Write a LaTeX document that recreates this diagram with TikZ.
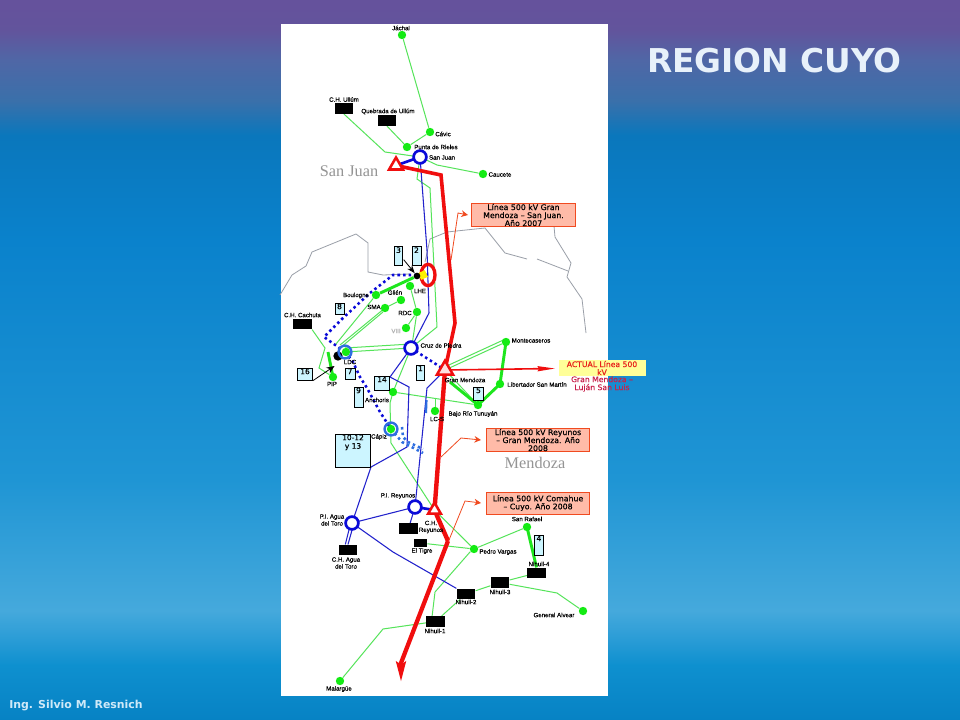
\documentclass[tikz,border=0pt]{standalone}
\usepackage{fontspec}
\setmainfont{Liberation Sans}
\newfontfamily\labfont[FakeBold=0.35]{Liberation Sans}
\newfontfamily\boxfont[FakeBold=0.4]{DejaVu Sans}
\newfontfamily\headfont{DejaVu Sans}
\newfontfamily\regionfont{Liberation Serif}
\usetikzlibrary{shapes.geometric,arrows.meta}
\pgfdeclarelayer{bgl}
\pgfsetlayers{bgl,main}
\definecolor{cthin}{HTML}{55E45A}
\definecolor{cthick}{HTML}{1EE61E}
\definecolor{cdot}{HTML}{14EB14}
\definecolor{cblue}{HTML}{2222CC}
\definecolor{cring}{HTML}{0A0AD8}
\definecolor{cring2}{HTML}{2E6EE0}
\definecolor{cred}{HTML}{F00E0E}
\definecolor{clead}{HTML}{F04A20}
\definecolor{csalmon}{HTML}{FFBBA8}
\definecolor{cnum}{HTML}{CCF5FF}
\definecolor{cgraybd}{HTML}{9A9FA8}
\definecolor{bga}{HTML}{65529C}
\definecolor{bgb}{HTML}{62549C}
\definecolor{bgc}{HTML}{4F67A6}
\definecolor{bgd}{HTML}{3A70AA}
\definecolor{bge}{HTML}{0A77BC}
\definecolor{bgf}{HTML}{0A82CC}
\definecolor{bgg}{HTML}{1F95D4}
\definecolor{bgh}{HTML}{45A9DC}
\definecolor{bgi}{HTML}{2A9CD6}
\definecolor{bgj}{HTML}{0E90CF}
\definecolor{bgk}{HTML}{0782C4}
\definecolor{ctitle}{HTML}{E8F1FA}
\definecolor{cauthor}{HTML}{CFE9F8}
\definecolor{cact}{HTML}{E8201A}
\definecolor{cact2}{HTML}{C8204A}
\definecolor{cyel}{HTML}{FFFF99}
\pgfdeclareverticalshading{slidebg}{100bp}{
 color(0bp)=(bgk);
 color(25bp)=(bgk);
 color(28.8bp)=(bgj);
 color(30.6bp)=(bgi);
 color(32.6bp)=(bgh);
 color(41.7bp)=(bgg);
 color(58.3bp)=(bgf);
 color(65.6bp)=(bge);
 color(68bp)=(bgd);
 color(70.8bp)=(bgc);
 color(72.9bp)=(bgb);
 color(74.6bp)=(bga);
 color(75bp)=(bga);
 color(100bp)=(bga)}
\tikzset{
 x=0.75pt,y=-0.75pt,
 dot/.style={circle,fill=cdot,inner sep=0pt,minimum size=6.3pt},
 ring/.style={circle,draw=cring,fill=white,line width=2pt,inner sep=0pt,minimum size=9.6pt},
 ringb/.style={circle,draw=cring2,line width=1.8pt,inner sep=0pt,minimum size=9.6pt},
 plant/.style={fill=black,inner sep=0pt,minimum width=14pt,minimum height=8pt},
 lab/.style={font=\labfont\fontsize{4.6}{5.2}\selectfont,text=black,inner sep=0pt,align=center},
 tri/.style={regular polygon,regular polygon sides=3,draw=cred,line width=1.9pt,inner sep=0pt,minimum size=12pt,fill=white},
 thin g/.style={draw=cthin,line width=0.75pt},
 thick g/.style={draw=cthick,line width=2.2pt},
 thin b/.style={draw=cblue,line width=0.8pt},
 thick b/.style={draw=cring,line width=2pt},
 dotted b/.style={draw=cring,line width=1.9pt,dash pattern=on 1.9pt off 2.3pt},
 dotted lb/.style={draw=cring2,line width=1.9pt,dash pattern=on 1.9pt off 2.3pt},
 red line/.style={draw=cred,line width=3pt,line join=miter},
 lead/.style={draw=clead,line width=0.6pt,-{Stealth[length=5pt,width=5pt]}},
 callout/.style={draw=clead,fill=csalmon,line width=0.6pt,minimum width=77.5pt,minimum height=16.5pt,inner sep=0pt,align=center,font=\boxfont\fontsize{5.85}{6}\selectfont},
 numbox/.style={draw=black,fill=cnum,line width=0.7pt,inner sep=0pt},
 numlab/.style={anchor=north,inner sep=0.6pt,align=center,font=\boxfont\fontsize{5.6}{6.4}\selectfont},
 border/.style={draw=cgraybd,line width=0.6pt},
 region/.style={font=\regionfont\fontsize{12.2}{13}\selectfont,text=black!42,inner sep=0pt},
}
\newcommand{\numbx}[6]{\node[numbox,minimum width=#4*0.75pt,minimum height=#5*0.75pt,label={[numlab]north:#6}] (#1) at (#2,#3) {};}
\begin{document}
\begin{tikzpicture}
\useasboundingbox (0,0) rectangle (960,720);
\begin{pgfonlayer}{bgl}
\shade[shading=slidebg] (0,0) rectangle (960,720);
\fill[white] (281,24) rectangle (608,696);
\draw[border] (280,295) -- (292,275) -- (306,266) -- (312,252) -- (356,234) -- (368,243) -- (368,272) -- (383,275) -- (410,274);
\draw[border] (425,262) -- (430,239) -- (447,232) -- (485,228) -- (505,253) -- (527,259);
\draw[border] (537,259) -- (568,271);
\draw[border] (554,226) -- (555,237) -- (571,263) -- (567,277) -- (582,299) -- (586,333);
\end{pgfonlayer}
% stations
\node[dot] (jachal) at (402,35) {};
\node[dot] (cavic) at (430,132) {};
\node[dot] (punta) at (407,147) {};
\node[dot] (caucete) at (483,174) {};
\node[dot] (lhe) at (410,286) {};
\node[dot] (glien) at (401,300) {};
\node[dot] (boul) at (376,295) {};
\node[dot] (sma) at (385,308) {};
\node[dot] (rdc) at (417,312) {};
\node[dot] (vill) at (406,328) {};
\node[dot] (pip) at (333,377) {};
\node[dot] (anch) at (393,392) {};
\node[dot] (lcs) at (435,411) {};
\node[dot] (monte) at (506,342) {};
\node[dot] (lsm) at (500,384) {};
\node[dot] (brt) at (478,405) {};
\node[dot] (pvar) at (474,549) {};
\node[dot] (srafael) at (527,527) {};
\node[dot] (galvear) at (583,611) {};
\node[dot] (malargue) at (340,681) {};
\node[circle,fill=black,inner sep=0pt,minimum size=7pt] (ldcb) at (338,356) {};
\node[dot] (ldcd) at (346,352) {};
\node[dot] (capd) at (391,429) {};
\node[ringb] (ldc) at (345,352) {};
\node[ringb] (capiz) at (391,429) {};
\node[ring] (sj) at (420,157) {};
\node[ring] (cdp) at (411,348) {};
\node[ring] (prey) at (415,507) {};
\node[ring] (atoro) at (352,523) {};
% plants
\node[plant] (ullum) at (344,108.5) {};
\node[plant] (quebrada) at (387,120.5) {};
\node[plant] (cachuta) at (302.5,324) {};
\node[plant] (chatoro) at (348,550) {};
\node[plant] (chrey) at (408.5,528.5) {};
\node[plant,minimum width=10pt,minimum height=6pt] (tigre) at (420.5,543) {};
\node[plant] (n1) at (435.5,621.5) {};
\node[plant] (n2) at (466,594) {};
\node[plant] (n3) at (500,582.5) {};
\node[plant] (n4) at (536.5,573) {};
% LHE compensation
\node[ellipse,draw=cred,line width=2.5pt,inner sep=0pt,minimum width=10.5pt,minimum height=16pt] (lhering) at (428,275) {};
\node[fill=yellow,rotate=25,inner sep=0pt,minimum size=5.5pt] (lhesq) at (423,275) {};
\node[circle,fill=black,inner sep=0pt,minimum size=5pt] (lheb) at (417,276) {};
% triangles
\node[tri,minimum size=12pt] (tsj) at (396,165.5) {};
\node[tri,fill=red!12,minimum size=14pt] (tgm) at (445,370) {};
\node[tri,minimum size=11pt] (trey) at (434.5,510) {};
\coordinate (rend) at (401,682);
\coordinate (aend) at (555,368.5);
\coordinate (d1) at (423,453);
\coordinate (d2) at (423,449);
\begin{pgfonlayer}{bgl}
% thin green
\draw[thin g] (jachal) -- (cavic) -- (punta);
\draw[thin g] (quebrada.south) -- (punta);
\draw[thin g] (ullum.south) -- (385,152) -- (sj.center);
\draw[thin g] (sj.center) -- (437,165) -- (caucete);
\draw[thin g] (sj.center) -- (417,179) -- (430,188) -- (437,327) -- (cdp.center);
\draw[thin g] (lhe) -- (rdc) -- (412,345) -- (cdp.center);
\draw[thin g] (vill) -- (rdc);
\draw[thin g] (ldc.center) -- (cdp.center);
\draw[thin g] ([yshift=3pt]ldc.center) -- ([yshift=3pt]cdp.center);
\draw[thin g] (340,345) -- (sma.center) -- (glien);
\draw[thin g] (340,348) -- (383,312);
\draw[thin g] (336,344) -- (boul);
\draw[thin g] (cachuta.south east) -- (325,348) -- (319,368) -- (pip);
\draw[thin g] (cdp.center) -- (anch.center) -- (390,403) -- (391,443) -- (trey.center) -- (pvar);
\draw[thin g] (anch) -- (brt);
\draw[thin g] (lcs) -- (435,398);
\draw[thin g] (tgm.center) -- (monte);
\draw[thin g] ([yshift=2.4pt]tgm.center) -- ([yshift=2.4pt]monte.center);
\draw[thin g] (tgm.center) -- (brt);
\draw[thin g] (tigre) -- (pvar);
\draw[thin g] (pvar) -- (srafael);
\draw[thin g] (pvar) -- (470,552) -- (435,592) -- (432,617);
\draw[thin g] (n1) -- (n2) -- (n3) -- (n4);
\draw[thin g] (n3) -- (557,593) -- (galvear);
\draw[thin g] (n1) -- (383,629) -- (malargue);
% thick green
\draw[thick g] (boul) -- (lheb);
\draw[thick g] (pip.center) -- (328,352);
\draw[thick g] (450,382) -- (brt.center) -- (lsm.center) -- (monte.center);
\draw[thick g] (srafael.center) -- (n4.north);
% blue
\draw[thin b] (sj.center) -- (427,250) -- (429,313) -- (cdp.center);
\draw[thin b] (cdp.center) -- (390,377) -- (409,387) -- (407,447) -- (371,467) -- (atoro.center);
\draw[thin b] (prey.center) -- (427,388) -- (tgm.center);
\draw[thin b] (prey.center) -- (atoro.center);
\draw[thin b] (prey.center) -- (chrey);
\draw[thin b] ([xshift=-1pt]atoro.center) -- ([xshift=-2pt]chatoro.north);
\draw[thin b] ([xshift=1.5pt]atoro.center) -- ([xshift=0pt]chatoro.north);
\draw[thin b] (atoro.center) -- (393,552) -- (n2.north west);
\draw[thick b] (sj.center) -- (tsj.center);
\draw[thick b] (prey.center) -- (trey.center);
\draw[draw=cring2,line width=1.6pt] (426.5,400) -- (426,413);
% dotted
\draw[dotted b] (lhering.center) -- (393,275) -- (370,293) -- (343,318) -- (324,337) -- (ldc.center);
\draw[dotted b] (ldc.center) -- (353,362) -- (360,377) -- (367,388) -- (380,412) -- (capiz.center);
\draw[dotted b] (cdp.center) -- (tgm.center);
\draw[dotted lb] (capiz.center) -- (402,442) -- (d1);
\draw[dotted lb] (402,427) -- (403,437) -- (408,442) -- (d2);
% red trunk
\draw[red line,line width=2.7pt] (tsj.center) -- (441,175) -- (455,323) -- (tgm.center);
\draw[red line,line width=3.3pt] (tgm.center) -- (trey.center) -- (448,541);
\draw[red line,line width=3.2pt,-{Stealth[length=15pt,width=7pt,inset=2pt]}] (448,541) -- (401,663) -- (rend);
\draw[draw=cred,line width=1.2pt,-{Stealth[length=13pt,width=3.8pt,inset=1pt]}] (tgm.center) -- (aend);
\end{pgfonlayer}
% leads
\node[callout] (c1) at (523.5,215) {Línea 500 kV Gran\\Mendoza – San Juan.\\Año 2007};
\node[callout] (c2) at (538,440) {Línea 500 kV Reyunos\\– Gran Mendoza. Año\\2008};
\node[callout] (c3) at (538,503) {Línea 500 kV Comahue\\– Cuyo. Año 2008};
\coordinate (s1) at (451,260);
\coordinate (s2) at (441,457);
\coordinate (s3) at (449,540);
\draw[lead] (s1) -- (458,213) -- (c1.west -| 468,0);
\draw[lead] (s2) -- (461,438) -- (c2.west -| 481,0);
\draw[lead] (s3) -- (465,501) -- (c3.west -| 481,0);
% actual box
\node[fill=cyel,inner sep=0pt,minimum width=65pt,minimum height=12pt] (actual) at (602.5,368) {};
\node[inner sep=0pt,align=center,font=\boxfont\fontsize{5.75}{6}\selectfont,text=cact] (actualt) at (602,368) {ACTUAL Línea 500\\kV};
\node[inner sep=0pt,align=center,font=\boxfont\fontsize{5.75}{6}\selectfont,text=cact2] (actualb) at (602,384) {Gran Mendoza –\\Luján San Luis};
% number boxes
\numbx{b3}{398.5}{256}{7.5}{18.5}{3}
\numbx{b2}{416.5}{256}{9}{18.5}{2}
\numbx{b8}{339.5}{308.5}{9}{11}{8}
\numbx{b16}{305}{374}{15.5}{12}{16}
\numbx{b7}{350}{373.5}{10}{11}{7}
\numbx{b1}{420.5}{372.5}{8.5}{15}{1}
\numbx{b14}{382}{383}{15.5}{14}{14}
\numbx{b9}{358.5}{397}{9}{20}{9}
\numbx{b10}{353}{450.5}{35.5}{33}{10-12\\y 13}
\numbx{b5}{478.5}{393.5}{10.5}{13}{5}
\numbx{b4}{539}{545}{9.5}{20}{4}
\draw[-{Stealth[length=6pt,width=4.5pt]},draw=black,line width=0.6pt] (b3.south east) ++(1,-6) -- (lheb);
\draw[-{Stealth[length=6pt,width=5pt]},draw=black,line width=0.6pt] (b16.south east) -- (ldcb.south west |- 0,366);
% labels
\node[lab] (lj) at (401,28) {Jáchal};
\node[lab] (lcv) at (443,134) {Cávic};
\node[lab] (lpr) at (436,147) {Punta de Rieles};
\node[lab] (lsj) at (442,157.5) {San Juan};
\node[lab] (lca) at (500,174.5) {Caucete};
\node[lab] (lul) at (344,99.5) {C.H. Ullúm};
\node[lab] (lqb) at (388,111.5) {Quebrada de Ullúm};
\node[lab] (lbo) at (356,295.5) {Boulogne};
\node[lab] (lgl) at (395,292.5) {Glién};
\node[lab] (llh) at (420,291) {LHE};
\node[lab] (lsm1) at (374,307) {SMA};
\node[lab] (lrd) at (405,313) {RDC};
\node[lab,text=black!30] (lvi) at (396,331) {VIII};
\node[lab] (lcc) at (302.5,315) {C.H. Cachuta};
\node[lab] (lcd) at (441,345.5) {Cruz de Piedra};
\node[lab] (lld) at (350,362) {LDC};
\node[lab] (lpi) at (332,384) {PIP};
\node[lab] (lgm) at (465,380) {Gran Mendoza};
\node[lab] (lmo) at (531,340.5) {Montecaseros};
\node[lab] (lls) at (537,384.5) {Libertador San Martín};
\node[lab] (lbr) at (473,414) {Bajo Río Tunuyán};
\node[lab] (llc) at (437,419) {LC-S};
\node[lab] (lan) at (377,400) {Anchoris};
\node[lab] (lcp) at (379,437) {Cápiz};
\node[lab] (lpy) at (398,496) {P.I. Reyunos};
\node[lab] (lat) at (332,520) {P.I. Agua\\del Toro};
\node[lab] (lct) at (346,563) {C.H. Agua\\del Toro};
\node[lab] (lcr) at (431,527) {C.H.\\Reyunos};
\node[lab] (let) at (422,551) {El Tigre};
\node[lab] (lpv) at (498,552) {Pedro Vargas};
\node[lab] (lsr) at (527,519) {San Rafael};
\node[lab] (ln4) at (539,564) {Nihuil-4};
\node[lab] (ln3) at (500,592) {Nihuil-3};
\node[lab] (ln2) at (466,602) {Nihuil-2};
\node[lab] (ln1) at (435,631) {Nihuil-1};
\node[lab] (lga) at (554,615) {General Alvear};
\node[lab] (lma) at (339,689) {Malargüe};
\node[region] (rsj) at (349,171) {San Juan};
\node[region] (rmz) at (535,463) {Mendoza};
\node[inner sep=0pt,font=\headfont\bfseries\fontsize{24.6}{28}\selectfont,text=ctitle] (title) at (774.5,61) {REGION CUYO};
\node[inner sep=0pt,font=\headfont\bfseries\fontsize{8.2}{9}\selectfont,text=cauthor] (author) at (76,706) {Ing. Silvio M. Resnich};
\end{tikzpicture}
\end{document}
